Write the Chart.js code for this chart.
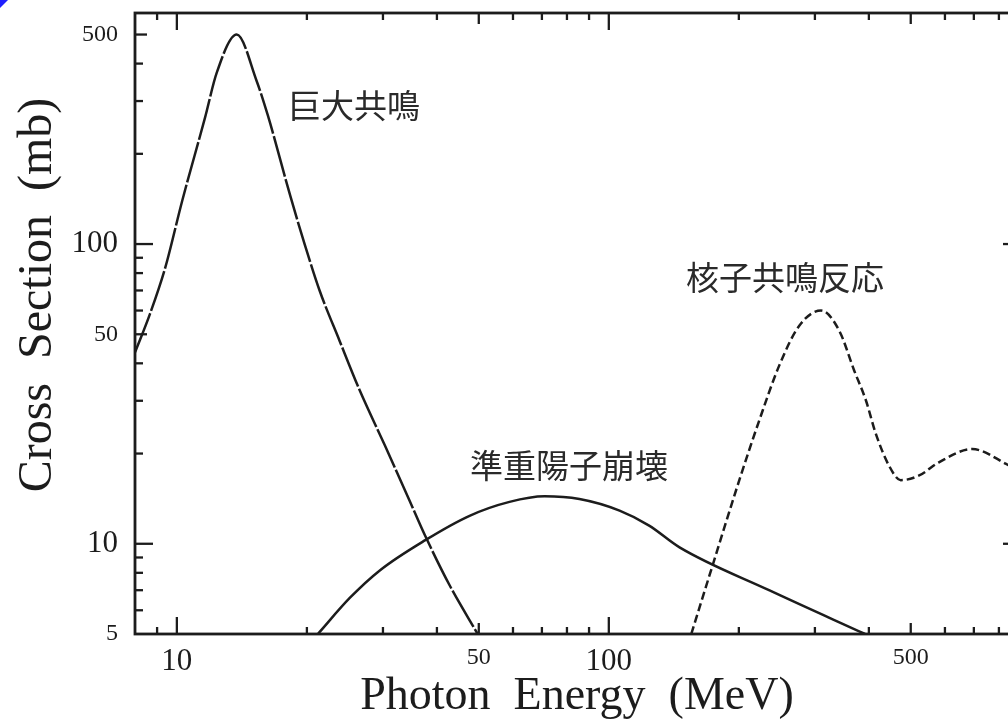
<!DOCTYPE html>
<html><head><meta charset="utf-8">
<script src="https://cdn.jsdelivr.net/npm/chart.js@4/dist/chart.umd.min.js"></script>
<style>
html,body{margin:0;padding:0;background:#fff;overflow:hidden;width:1008px;height:724px;}
#wrap{position:relative;width:1030px;height:724px;}
#corner{position:absolute;left:0;top:0;width:0;height:0;border-top:8px solid #1f1fff;border-right:8px solid transparent;}
</style></head><body>
<div id="wrap"><canvas id="c" width="1030" height="724"></canvas><div id="corner"></div></div>
<script>
// Giant resonance (long dashes)
const giantEnergy = [8.0, 8.67, 9.40, 10.29, 11.62, 12.37, 13.76, 15.3, 16.25, 18.3, 19.8, 21.4, 23.8, 26.5, 30.3, 34.6, 37.5, 42.8, 49.7];
const giantSigma  = [43.5, 58.6, 83.4, 139.5, 264, 373, 500, 350, 268, 145, 99, 70, 47.6, 32.5, 21.3, 13.9, 10.7, 7.27, 5.0];
// Quasi-deuteron (solid)
const qdEnergy = [21.2, 25.2, 29.5, 37.5, 47.6, 58.9, 71.0, 85.5, 105.9, 124, 145.8, 235.6, 392];
const qdSigma  = [5.0, 6.62, 8.15, 10.26, 12.4, 13.8, 14.4, 14.1, 12.9, 11.5, 9.73, 6.99, 5.0];
// Nucleon resonance (short dashes)
const nrEnergy = [155.2, 171, 200.5, 223, 248, 276, 310, 341.5, 370, 394, 415, 445.5, 474, 523, 581, 694, 829, 900];
const nrSigma  = [5.0, 7.84, 16.3, 25.8, 39.3, 53.4, 60, 51.4, 37.8, 30.0, 23.3, 18.2, 16.3, 16.9, 18.7, 20.7, 18.5, 17.2];

const xLabelTicks = [10, 50, 100, 500];
const xMajorTicks = [10, 100];
const xMidTicks = [50, 500];
const xMinorTicks = [9, 20, 30, 40, 60, 70, 80, 90, 200, 300, 400, 600, 700, 800, 900];
const yLabelTicks = [5, 10, 50, 100, 500];
const yMajorTicks = [10, 100];
const yMidTicks = [50, 500];
const yMinorTicks = [6, 7, 8, 9, 20, 30, 40, 60, 70, 80, 90, 200, 300, 400];
const xTitle = 'Photon  Energy  (MeV)';
const yTitle = 'Cross  Section  (mb)';
const annotations = [
  {text: '巨大共鳴', dx: 153, dy: 92},
  {text: '核子共鳴反応', dx: 551, dy: 264},
  {text: '準重陽子崩壊', dx: 335, dy: 452}
];

const toXY = (xs, ys) => xs.map((v, i) => ({x: v, y: ys[i]}));
const SERIF = '"Liberation Serif", "DejaVu Serif", serif';
const INK = '#1c1c1c';

const frame = {
  id: 'frame',
  afterDraw(chart) {
    const {ctx, chartArea: a, scales: {x, y}} = chart;
    ctx.save();
    ctx.strokeStyle = INK;
    ctx.lineWidth = 2.8;
    ctx.strokeRect(a.left, a.top, a.right - a.left, a.bottom - a.top);
    ctx.lineWidth = 2.3;
    const seg = (x1, y1, x2, y2) => { ctx.beginPath(); ctx.moveTo(x1, y1); ctx.lineTo(x2, y2); ctx.stroke(); };
    const xt = (vals, len) => vals.forEach(v => { const p = x.getPixelForValue(v); seg(p, a.bottom, p, a.bottom - len); seg(p, a.top, p, a.top + len); });
    const yt = (vals, len) => vals.forEach(v => { const p = y.getPixelForValue(v); seg(a.left, p, a.left + len, p); seg(a.right, p, a.right - len, p); });
    xt(xMajorTicks, 17); xt(xMidTicks, 11); xt(xMinorTicks, 7);
    yt(yMajorTicks, 18); yt(yMidTicks, 12); yt(yMinorTicks, 8);
    // titles
    ctx.fillStyle = INK;
    ctx.font = '46px ' + SERIF;
    ctx.textAlign = 'center'; ctx.textBaseline = 'middle';
    ctx.fillText(xTitle, (a.left + a.right) / 2 - 1, 697);
    ctx.save();
    ctx.font = '48px ' + SERIF;
    ctx.translate(38, 295); ctx.rotate(-Math.PI / 2);
    ctx.fillText(yTitle, 0, 0);
    ctx.restore();
    // annotations
    ctx.font = '33px "Noto Sans CJK JP", sans-serif';
    ctx.fillStyle = '#2a2a2a';
    ctx.textAlign = 'left'; ctx.textBaseline = 'middle';
    annotations.forEach(t => ctx.fillText(t.text, a.left + t.dx, a.top + t.dy));
    ctx.restore();
  }
};

const common = {borderColor: INK, borderWidth: 2.5, pointRadius: 0, fill: false, cubicInterpolationMode: 'monotone'};

const noPad = s => { s.paddingTop = 0; s.paddingBottom = 0; s.paddingLeft = 0; s.paddingRight = 0; };

new Chart(document.getElementById('c'), {
  type: 'line',
  data: {
    datasets: [
      Object.assign({label: 'giant', data: toXY(giantEnergy, giantSigma), borderDash: [42, 2.5]}, common),
      Object.assign({label: 'qd', data: toXY(qdEnergy, qdSigma)}, common),
      Object.assign({label: 'nr', data: toXY(nrEnergy, nrSigma), borderDash: [8, 4], borderWidth: 2.8}, common)
    ]
  },
  options: {
    responsive: false, animation: false, devicePixelRatio: 1,
    layout: {padding: {left: 0, top: 13, right: 9, bottom: 0}},
    plugins: {legend: {display: false}, tooltip: {enabled: false}},
    scales: {
      x: {
        type: 'logarithmic', min: 8, max: 900, position: 'bottom',
        grid: {display: false, drawTicks: false, tickLength: 0}, border: {display: false},
        afterBuildTicks: s => { s.ticks = xLabelTicks.map(v => ({value: v})); },
        afterFit: s => { s.height = 90; noPad(s); },
        ticks: {
          autoSkip: false, maxRotation: 0, padding: 9, color: INK,
          callback: v => String(v),
          font: c => ({family: SERIF, size: xMajorTicks.includes(c.tick && c.tick.value) ? 31 : 24})
        }
      },
      y: {
        type: 'logarithmic', min: 5, max: 590, position: 'left',
        grid: {display: false, drawTicks: false, tickLength: 0}, border: {display: false},
        afterBuildTicks: s => { s.ticks = yLabelTicks.map(v => ({value: v})); },
        afterFit: s => { s.width = 135; noPad(s); },
        ticks: {
          autoSkip: false, padding: 17, color: INK,
          callback: v => String(v),
          font: c => ({family: SERIF, size: yMajorTicks.includes(c.tick && c.tick.value) ? 31 : 24})
        }
      }
    }
  },
  plugins: [frame]
});
</script>
</body></html>
